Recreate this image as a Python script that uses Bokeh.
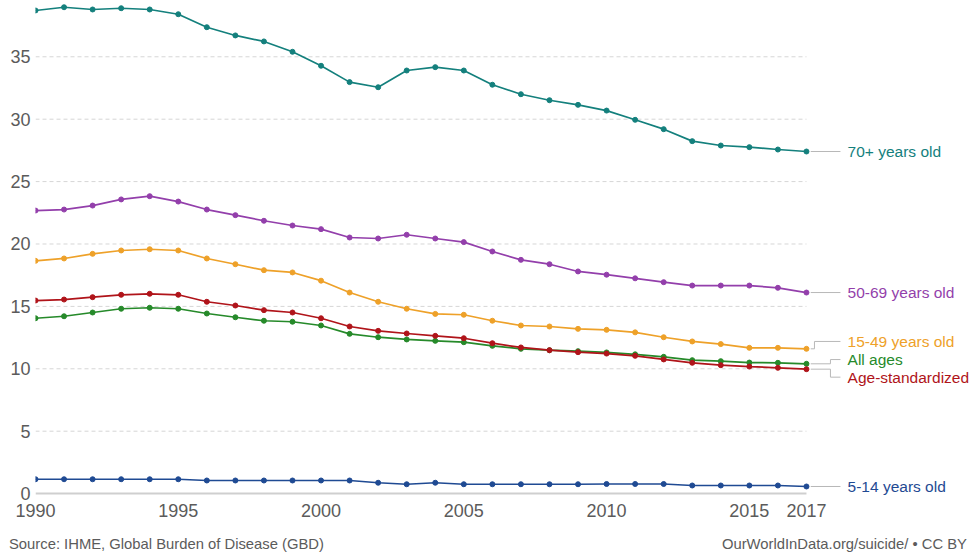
from bokeh.plotting import figure
from bokeh.models import Label, FixedTicker, Div
from bokeh.layouts import column
from bokeh.embed import file_html
from bokeh.resources import INLINE

years = list(range(1990, 2018))

age_70 = [38.71, 38.97, 38.79, 38.89, 38.79, 38.41, 37.37, 36.71, 36.23, 35.40,
          34.28, 32.97, 32.56, 33.90, 34.17, 33.90, 32.76, 32.00, 31.52, 31.15,
          30.69, 29.95, 29.20, 28.24, 27.89, 27.76, 27.57, 27.41]
age_50 = [22.68, 22.76, 23.08, 23.57, 23.83, 23.40, 22.76, 22.31, 21.86, 21.48,
          21.19, 20.52, 20.44, 20.74, 20.44, 20.15, 19.40, 18.73, 18.38, 17.80,
          17.54, 17.25, 16.94, 16.67, 16.67, 16.67, 16.49, 16.11]
age_15 = [18.65, 18.84, 19.21, 19.48, 19.58, 19.48, 18.84, 18.38, 17.90, 17.72,
          17.06, 16.11, 15.37, 14.81, 14.40, 14.33, 13.85, 13.47, 13.39, 13.20,
          13.12, 12.92, 12.53, 12.19, 11.98, 11.68, 11.68, 11.60]
all_ages = [14.05, 14.21, 14.51, 14.81, 14.89, 14.81, 14.43, 14.13, 13.85, 13.77,
            13.47, 12.80, 12.53, 12.35, 12.24, 12.13, 11.84, 11.60, 11.49, 11.41,
            11.31, 11.16, 10.96, 10.69, 10.61, 10.50, 10.48, 10.40]
age_std = [15.47, 15.55, 15.74, 15.93, 16.01, 15.93, 15.37, 15.07, 14.70, 14.51,
           14.05, 13.39, 13.04, 12.83, 12.64, 12.45, 12.05, 11.71, 11.49, 11.33,
           11.22, 11.04, 10.75, 10.48, 10.29, 10.18, 10.08, 9.97]
age_5 = [1.15, 1.15, 1.15, 1.15, 1.15, 1.15, 1.05, 1.05, 1.05, 1.05,
         1.05, 1.05, 0.87, 0.75, 0.87, 0.75, 0.75, 0.75, 0.75, 0.75,
         0.77, 0.77, 0.77, 0.65, 0.65, 0.65, 0.65, 0.57]

series_names = ["70+ years old", "50-69 years old", "15-49 years old",
                "All ages", "Age-standardized", "5-14 years old"]
series_values = [age_70, age_50, age_15, all_ages, age_std, age_5]
series_colors = ["#14807d", "#933fab", "#eea129", "#268a2a", "#b0141a", "#1f4a93"]

x_ticks = [1990, 1995, 2000, 2005, 2010, 2015, 2017]
y_ticks = [0, 5, 10, 15, 20, 25, 30, 35]

source_text = "Source: IHME, Global Burden of Disease (GBD)"
credit_text = "OurWorldInData.org/suicide/ \u2022 CC BY"

# label layout (vertical offsets to avoid overlaps)
label_y = [27.41, 16.11, 12.19, 10.74, 9.33, 0.57]
label_x = 2018.44
conn_end = 2018.19
elbow_x = [None, None, 2017.28, 2017.84, 2017.84, None]

FONT = "Liberation Sans"
GRAY = "#5b5b5b"

p = figure(width=973, height=528, x_range=(1990, 2022.85), y_range=(-0.3125, 39.51),
           output_backend="svg", toolbar_location=None,
           min_border_left=35, min_border_right=0, min_border_top=0,
           min_border_bottom=31)
p.outline_line_color = None
p.xgrid.visible = False
p.ygrid.visible = False

for ax in (p.xaxis, p.yaxis):
    ax.axis_line_color = None
    ax.major_tick_line_color = None
    ax.minor_tick_line_color = None
    ax.major_tick_out = 0
    ax.major_tick_in = 0
    ax.minor_tick_out = 0
    ax.major_label_text_font = FONT
    ax.major_label_text_color = GRAY
    ax.major_label_text_font_size = "18px"
p.xaxis.ticker = FixedTicker(ticks=x_ticks)
p.yaxis.ticker = FixedTicker(ticks=y_ticks)
p.xaxis.major_label_standoff = 6
p.yaxis.major_label_standoff = 5

# gridlines (only across the data span)
grid_vals = [v for v in y_ticks if v > 0]
p.segment(x0=[years[0]] * len(grid_vals), y0=grid_vals,
          x1=[years[-1]] * len(grid_vals), y1=grid_vals,
          line_color="#d6d6d6", line_width=1, line_dash="4 3")
p.segment(x0=[years[0]], y0=[0], x1=[years[-1]], y1=[0],
          line_color="#cfcfcf", line_width=2)

for name, vals, col, ly, ex in zip(series_names, series_values, series_colors,
                                   label_y, elbow_x):
    p.line(years, vals, line_color=col, line_width=1.7)
    p.scatter(years, vals, size=5, fill_color=col, line_color=col)
    end = vals[-1]
    if ex is None:
        xs = [years[-1] + 0.15, conn_end]
        ys = [end, end]
    else:
        xs = [years[-1] + 0.15, ex, ex, conn_end]
        ys = [end, end, ly, ly]
    p.line(xs, ys, line_color="#b8b8b8", line_width=1)
    p.add_layout(Label(x=label_x, y=ly, text=name, text_font=FONT,
                       text_font_size="15.5px", text_color=col,
                       text_baseline="middle", text_align="left"))

# footer strip for source / credit
footer = Div(
    text=(f"<div style=\"display:flex;justify-content:space-between;"
          f"box-sizing:border-box;width:963px;padding:0 1px 0 4px;"
          f"font-family:'{FONT}';font-size:14.8px;"
          f"line-height:22px;color:{GRAY};white-space:nowrap\">"
          f"<span>{source_text}</span><span>{credit_text}</span></div>"),
    width=973, height=26)

layout = column(p, footer, spacing=0)
open("out.html", "w").write(file_html(layout, INLINE))
